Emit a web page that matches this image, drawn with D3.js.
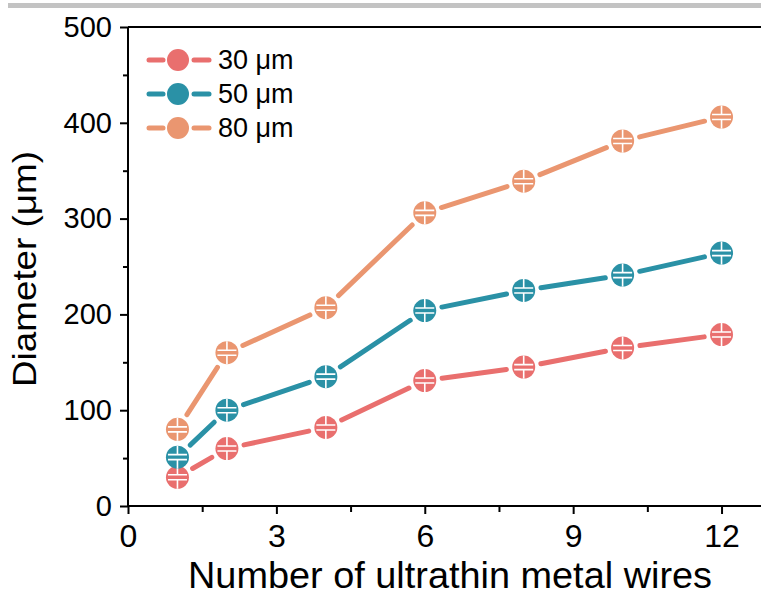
<!DOCTYPE html>
<html>
<head>
<meta charset="utf-8">
<script src="https://cdn.jsdelivr.net/npm/d3@7"></script>
<style>
	body { margin: 0; background: #fff; }
	svg { display: block; font-family: "Liberation Sans", Arial, sans-serif; }
</style>
</head>
<body>
<script>
// data
const wires = [1, 2, 4, 6, 8, 10, 12];
const d30 = [30, 60, 82, 131, 145, 165, 179];
const d50 = [51, 100, 135, 204, 225, 241, 264];
const d80 = [80, 160, 207, 306, 339, 381, 406];
const seriesNames = ["30 μm", "50 μm", "80 μm"];
const seriesColors = ["#e96f6e", "#2a91a6", "#ea9670"];
const xTicks = [0, 3, 6, 9, 12];
const yTicks = [0, 100, 200, 300, 400, 500];

const width = 761, height = 595;
const margin = {top: 27, right: -10, bottom: 89, left: 128};

let scale = {
	x: d3.scaleLinear().domain([0, 13]).range([margin.left, width - margin.right]),
	y: d3.scaleLinear().domain([0, 500]).range([height - margin.bottom, margin.top])
};

let svg = d3.select("body").append("svg")
	.attr("width", width)
	.attr("height", height);

// grey strip on top
svg.append("rect")
	.attr("x", 8).attr("y", 3)
	.attr("width", width - 8).attr("height", 5)
	.attr("fill", "#c3c3c3");

let series = [d30, d50, d80].map((vals, i) => ({
	name: seriesNames[i],
	color: seriesColors[i],
	points: vals.map((v, j) => ({x: wires[j], y: v}))
}));

const r = 11.5;
const gap = 4;

let plot = svg.append("g").attr("class", "chart");

series.forEach(s => {
	let g = plot.append("g").attr("class", "series");
	// segments stop short of the markers
	for (let i = 0; i < s.points.length - 1; i++) {
		let x1 = scale.x(s.points[i].x), y1 = scale.y(s.points[i].y);
		let x2 = scale.x(s.points[i + 1].x), y2 = scale.y(s.points[i + 1].y);
		let len = Math.hypot(x2 - x1, y2 - y1);
		let ux = (x2 - x1) / len, uy = (y2 - y1) / len;
		let off = r + gap + 2;
		g.append("line")
			.attr("x1", x1 + ux * off).attr("y1", y1 + uy * off)
			.attr("x2", x2 - ux * off).attr("y2", y2 - uy * off)
			.attr("stroke", s.color)
			.attr("stroke-width", 5)
			.attr("stroke-linecap", "round");
	}
	let m = g.selectAll(".marker")
		.data(s.points)
		.enter().append("g")
		.attr("class", "marker")
		.attr("transform", d => `translate(${scale.x(d.x)},${scale.y(d.y)})`);
	m.append("circle").attr("r", r).attr("fill", s.color);
	// little white pattern inside the markers
	m.append("path")
		.attr("d", `M${-r + 2},-2.5H${r - 2}M${-r + 2},2.5H${r - 2}M0,${-r}V-2.5M0,2.5V${r}`)
		.attr("stroke", "#fff")
		.attr("stroke-width", 1.6)
		.attr("fill", "none");
});

// frame: top, left, bottom (right edge is outside the picture)
svg.append("path")
	.attr("d", `M${margin.left},${margin.top}H${width}M${margin.left},${margin.top}V${height - margin.bottom}H${width}`)
	.attr("stroke", "#000")
	.attr("stroke-width", 2)
	.attr("fill", "none");

let xAxis = svg.append("g")
	.attr("class", "axis x")
	.attr("transform", `translate(0, ${height - margin.bottom})`)
	.call(d3.axisBottom(scale.x).tickValues(xTicks).tickSize(8).tickPadding(10).tickFormat(d3.format("d")));

svg.append("g")
	.attr("transform", `translate(0, ${height - margin.bottom})`)
	.call(d3.axisBottom(scale.x).tickValues([1.5, 4.5, 7.5, 10.5]).tickSize(6).tickFormat(""));

let yAxis = svg.append("g")
	.attr("class", "axis y")
	.attr("transform", `translate(${margin.left}, 0)`)
	.call(d3.axisLeft(scale.y).tickValues(yTicks).tickSize(8).tickPadding(8));

svg.append("g")
	.attr("transform", `translate(${margin.left}, 0)`)
	.call(d3.axisLeft(scale.y).tickValues([50, 150, 250, 350, 450]).tickSize(5).tickFormat(""));

svg.selectAll(".domain").remove();
svg.selectAll(".tick line").attr("stroke", "#000").attr("stroke-width", 2);
svg.selectAll(".tick text")
	.attr("font-family", "Liberation Sans, Arial, sans-serif")
	.attr("fill", "#000");
yAxis.selectAll(".tick text").attr("font-size", 29);
xAxis.selectAll(".tick text").attr("font-size", 32);

svg.append("text")
	.attr("x", 450)
	.attr("y", 588)
	.attr("text-anchor", "middle")
	.attr("font-size", 37)
	.attr("textLength", 524)
	.attr("lengthAdjust", "spacingAndGlyphs")
	.text("Number of ultrathin metal wires");

svg.append("text")
	.attr("transform", `translate(36, 269) rotate(-90)`)
	.attr("text-anchor", "middle")
	.attr("font-size", 33)
	.attr("textLength", 236)
	.attr("lengthAdjust", "spacingAndGlyphs")
	.text("Diameter (μm)");

// legend
let legend = svg.append("g")
	.attr("class", "legend")
	.attr("transform", "translate(147, 60)");

let item = legend.selectAll(".item")
	.data(series)
	.enter().append("g")
	.attr("class", "item")
	.attr("transform", (d, i) => `translate(0, ${i * 34})`);

item.append("line")
	.attr("x1", 2).attr("x2", 16).attr("y1", 0).attr("y2", 0)
	.attr("stroke", d => d.color).attr("stroke-width", 5).attr("stroke-linecap", "round");
item.append("line")
	.attr("x1", 47).attr("x2", 62).attr("y1", 0).attr("y2", 0)
	.attr("stroke", d => d.color).attr("stroke-width", 5).attr("stroke-linecap", "round");
item.append("circle")
	.attr("cx", 31).attr("cy", 0).attr("r", 11)
	.attr("fill", d => d.color);
item.append("text")
	.attr("x", 71).attr("y", 9)
	.attr("font-size", 27)
	.text(d => d.name);
</script>
</body>
</html>
